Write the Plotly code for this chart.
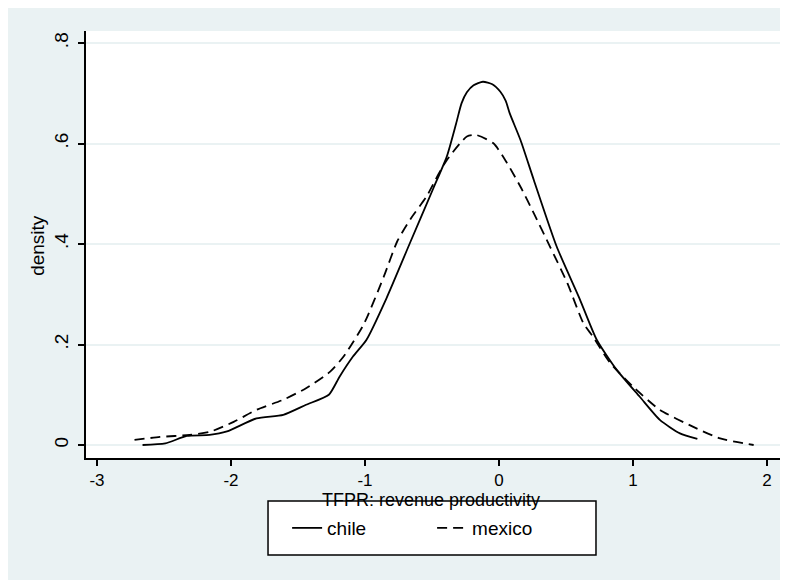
import plotly.graph_objects as go

# kernel density estimates
chile_x = [-2.66, -2.49, -2.33, -2.16, -2.03, -1.81, -1.61, -1.44, -1.27, -1.19,
           -1.09, -0.99, -0.84, -0.66, -0.49, -0.39, -0.32, -0.28, -0.24, -0.19,
           -0.12, -0.05, 0.01, 0.05, 0.08, 0.16, 0.26, 0.43, 0.60, 0.73, 0.88,
           1.05, 1.20, 1.35, 1.48]
chile_y = [0.000, 0.003, 0.018, 0.020, 0.027, 0.053, 0.060, 0.080, 0.100, 0.136,
           0.176, 0.209, 0.292, 0.405, 0.511, 0.574, 0.640, 0.680, 0.702, 0.716,
           0.723, 0.718, 0.703, 0.685, 0.660, 0.607, 0.527, 0.395, 0.292, 0.209, 0.149,
           0.096, 0.050, 0.023, 0.012]

mexico_x = [-2.72, -2.53, -2.31, -2.16, -1.98, -1.81, -1.61, -1.44, -1.26, -1.16,
            -1.01, -0.86, -0.76, -0.66, -0.54, -0.45, -0.39, -0.24, -0.17, -0.04,
            0.06, 0.16, 0.26, 0.38, 0.51, 0.63, 0.70, 0.83, 1.00, 1.20, 1.45, 1.65, 1.90]
mexico_y = [0.010, 0.016, 0.020, 0.026, 0.046, 0.070, 0.090, 0.113, 0.146, 0.176,
            0.240, 0.335, 0.405, 0.450, 0.495, 0.540, 0.567, 0.614, 0.617, 0.600,
            0.561, 0.514, 0.461, 0.395, 0.322, 0.242, 0.216, 0.163, 0.116, 0.070,
            0.036, 0.013, 0.000]

x_ticks = [-3, -2, -1, 0, 1, 2]
x_tick_text = ["-3", "-2", "-1", "0", "1", "2"]
y_ticks = [0, 0.2, 0.4, 0.6, 0.8]
y_tick_text = ["0", ".2", ".4", ".6", ".8"]

STATA_BG = "#EAF2F3"
FONT = "Liberation Sans, Arial, sans-serif"

fig = go.Figure()
fig.add_trace(go.Scatter(x=chile_x, y=chile_y, mode="lines", name="chile",
                         line=dict(color="black", width=1.8, shape="spline", smoothing=0.6)))
fig.add_trace(go.Scatter(x=mexico_x, y=mexico_y, mode="lines", name="mexico",
                         line=dict(color="black", width=1.8, dash="10px,6px",
                                   shape="spline", smoothing=0.6)))

# legend frame
fig.add_shape(type="rect", xref="paper", yref="paper",
              x0=0.2619, x1=0.7338, y0=-0.2272, y1=-0.1007,
              fillcolor="white", line=dict(color="black", width=1.5), layer="below")

fig.add_annotation(text="TFPR: revenue productivity", xref="paper", yref="paper",
                   x=0.497, y=-0.0984, xanchor="center", yanchor="middle",
                   showarrow=False, font=dict(size=18))
fig.add_annotation(text="density", xref="paper", yref="paper", textangle=-90,
                   x=-0.069, y=0.497, xanchor="center", yanchor="middle",
                   showarrow=False, font=dict(size=19))

fig.update_layout(
    width=788, height=580,
    margin=dict(l=78, r=15, t=23, b=130),
    paper_bgcolor=STATA_BG,
    plot_bgcolor="white",
    font=dict(family=FONT, size=18, color="black"),
    showlegend=True,
    legend=dict(orientation="h", x=0.498, xanchor="center", y=-0.164, yanchor="middle",
                borderwidth=0, bgcolor="rgba(0,0,0,0)",
                font=dict(size=19), entrywidth=100),
    xaxis=dict(range=[-3.082, 2.104], tickvals=x_ticks, ticktext=x_tick_text,
               ticks="outside", ticklen=6, automargin=False, tickfont=dict(size=17),
               tickwidth=1.5, tickcolor="black", showline=True, linecolor="black",
               linewidth=1.5, showgrid=False, zeroline=False),
    yaxis=dict(range=[-0.0259, 0.824], tickvals=y_ticks, ticktext=y_tick_text,
               tickangle=-90, ticks="outside", ticklen=6, tickwidth=1.5,
               ticklabelstandoff=3, automargin=False, tickfont=dict(size=19),
               tickcolor="black", showline=True, linecolor="black", linewidth=1.5,
               showgrid=True, gridcolor=STATA_BG, gridwidth=1.5, zeroline=False),
)

fig.write_html("out.html")
